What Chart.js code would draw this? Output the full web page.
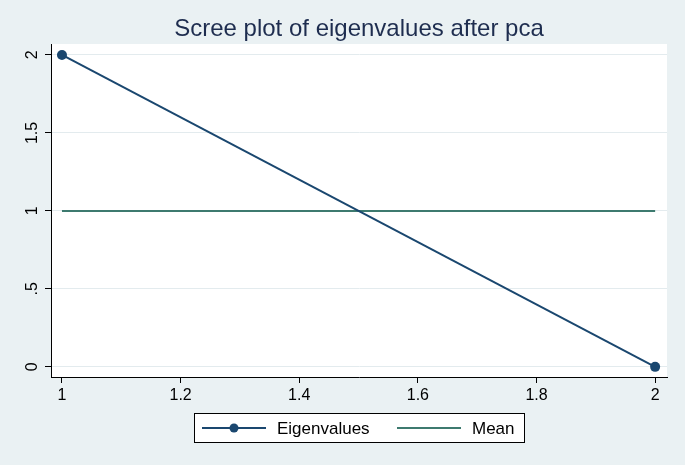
<!DOCTYPE html>
<html>
<head>
<meta charset="utf-8">
<script src="https://cdn.jsdelivr.net/npm/chart.js@4/dist/chart.umd.min.js"></script>
<style>
  body { margin: 0; background: #eaf1f3; }
  #wrap { width: 685px; height: 465px; }
</style>
</head>
<body>
<div id="wrap"><canvas id="myChart" width="685" height="465"></canvas></div>
<script>
const components = [1, 2];
const eigenvalues = [2, 0];
const meanValues = [1, 1];
const seriesNames = ['Eigenvalues', 'Mean'];
const xTickValues = [1, 1.2, 1.4, 1.6, 1.8, 2];
const xTickLabels = ['1', '1.2', '1.4', '1.6', '1.8', '2'];
const yTickValues = [0, 0.5, 1, 1.5, 2];
const yTickLabels = ['0', '.5', '1', '1.5', '2'];

const FONT = '"Liberation Sans", Arial, sans-serif';
const navy = '#1a476f';
const teal = '#3d7a6f';

// page background + white plot region
const bgPlugin = {
    id: 'bg',
    beforeDraw: (chart) => {
        let ctx = chart.ctx, a = chart.chartArea;
        ctx.save();
        ctx.fillStyle = '#eaf1f3';
        ctx.fillRect(0, 0, chart.width, chart.height);
        ctx.fillStyle = '#ffffff';
        ctx.fillRect(a.left, a.top, a.right - a.left, a.bottom - a.top);
        ctx.restore();
    }
};

// rotated y labels and the boxed legend below the axis
const extrasPlugin = {
    id: 'extras',
    afterDraw: (chart) => {
        let ctx = chart.ctx;
        let y = chart.scales.y;
        ctx.save();
        ctx.fillStyle = '#000';
        ctx.font = '16px ' + FONT;
        ctx.textAlign = 'center';
        ctx.textBaseline = 'middle';
        for (let i = 0; i < yTickValues.length; i++) {
            let py = y.getPixelForValue(yTickValues[i]);
            ctx.save();
            ctx.translate(33, py);
            ctx.rotate(-Math.PI / 2);
            ctx.fillText(yTickLabels[i], 0, 0);
            ctx.restore();
        }

        // legend box
        ctx.fillStyle = '#fff';
        ctx.fillRect(194.5, 413.5, 330, 29);
        ctx.strokeStyle = '#000';
        ctx.lineWidth = 1;
        ctx.strokeRect(194.5, 413.5, 330, 29);

        let ly = 428;
        ctx.lineWidth = 2;
        ctx.strokeStyle = navy;
        ctx.beginPath();
        ctx.moveTo(202, ly);
        ctx.lineTo(266, ly);
        ctx.stroke();
        ctx.fillStyle = navy;
        ctx.beginPath();
        ctx.arc(234, ly, 4.5, 0, Math.PI * 2);
        ctx.fill();

        ctx.strokeStyle = teal;
        ctx.beginPath();
        ctx.moveTo(397, ly);
        ctx.lineTo(461, ly);
        ctx.stroke();

        ctx.fillStyle = '#000';
        ctx.font = '17px ' + FONT;
        ctx.textAlign = 'left';
        ctx.fillText(seriesNames[0], 277, ly + 1);
        ctx.fillText(seriesNames[1], 472, ly + 1);
        ctx.restore();
    }
};

const data = {
    datasets: [{
        label: seriesNames[0],
        data: components.map((c, i) => ({ x: c, y: eigenvalues[i] })),
        borderColor: navy,
        backgroundColor: navy,
        borderWidth: 2,
        pointRadius: 5,
        pointBorderWidth: 0,
        pointBackgroundColor: navy,
        order: 1
    }, {
        label: seriesNames[1],
        data: components.map((c, i) => ({ x: c, y: meanValues[i] })),
        borderColor: teal,
        backgroundColor: teal,
        borderWidth: 2,
        pointRadius: 0,
        order: 2
    }]
};

const config = {
    type: 'line',
    data: data,
    options: {
        responsive: false,
        animation: false,
        layout: { padding: { left: 0, right: 18, top: 0, bottom: 0 } },
        plugins: {
            legend: { display: false },
            tooltip: { enabled: false },
            title: {
                display: true,
                text: 'Scree plot of eigenvalues after pca',
                color: '#1e2d4f',
                fullSize: false,
                font: { family: FONT, size: 24, weight: 'normal', lineHeight: 1.2 },
                padding: { top: 15, bottom: 0.2 }
            }
        },
        scales: {
            x: {
                type: 'linear',
                min: 0.9815,
                max: 2.02,
                afterBuildTicks: (scale) => {
                    scale.ticks = xTickValues.map(v => ({ value: v }));
                },
                afterFit: (scale) => { scale.height = 88; },
                ticks: {
                    color: '#000',
                    font: { family: FONT, size: 16 },
                    padding: 3,
                    maxRotation: 0,
                    callback: (v, i) => xTickLabels[i]
                },
                grid: {
                    drawOnChartArea: false,
                    drawTicks: true,
                    tickLength: 6,
                    tickColor: '#000'
                },
                border: { display: true, color: '#000', width: 1 }
            },
            y: {
                type: 'linear',
                min: -0.065,
                max: 2.07,
                afterBuildTicks: (scale) => {
                    scale.ticks = yTickValues.map(v => ({ value: v }));
                },
                afterFit: (scale) => { scale.width = 51; },
                ticks: {
                    display: false
                },
                grid: {
                    color: '#e3ebee',
                    lineWidth: 1,
                    drawTicks: true,
                    tickLength: 6,
                    tickColor: '#000'
                },
                border: { display: true, color: '#000', width: 1 }
            }
        }
    },
    plugins: [bgPlugin, extrasPlugin]
};

const myChart = new Chart(
    document.getElementById('myChart'),
    config
);
</script>
</body>
</html>
